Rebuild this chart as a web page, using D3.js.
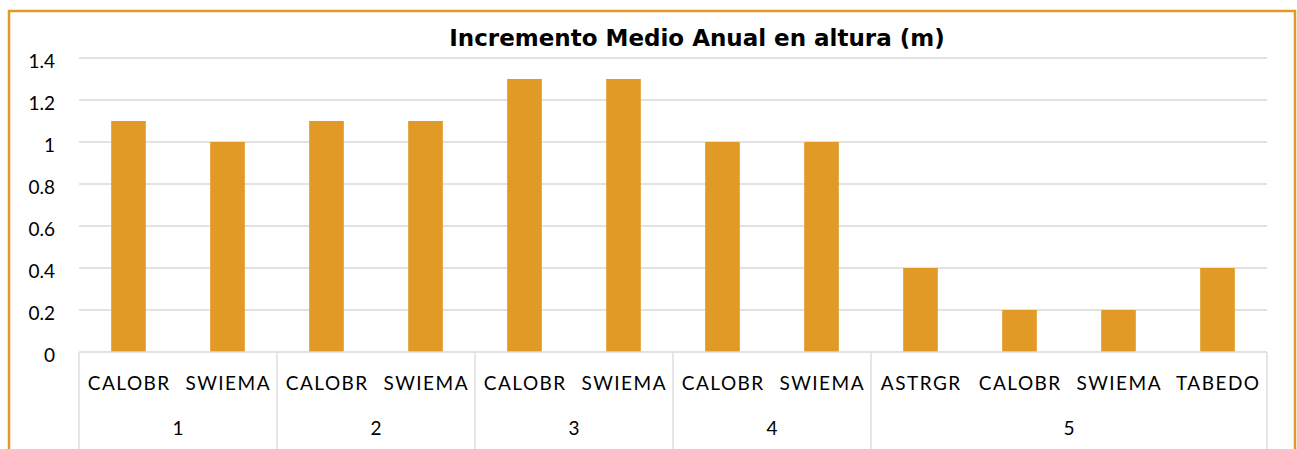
<!DOCTYPE html>
<html>
<head>
<meta charset="utf-8">
<script src="https://cdn.jsdelivr.net/npm/d3@7"></script>
<style>
  body { margin: 0; background: #fff; }
  svg { display: block; }
</style>
</head>
<body>
<div id="chart"></div>
<script>
// data
var groups = ["1", "2", "3", "4", "5"];
var species = [
    ["CALOBR", "SWIEMA"],
    ["CALOBR", "SWIEMA"],
    ["CALOBR", "SWIEMA"],
    ["CALOBR", "SWIEMA"],
    ["ASTRGR", "CALOBR", "SWIEMA", "TABEDO"]
];
var ima_values = [
    [1.1, 1.0],
    [1.1, 1.1],
    [1.3, 1.3],
    [1.0, 1.0],
    [0.4, 0.2, 0.2, 0.4]
];
var y_ticks = [0, 0.2, 0.4, 0.6, 0.8, 1, 1.2, 1.4];
var chart_title = "Incremento Medio Anual en altura (m)";

var svg_width = 1297;
var svg_height = 449;
var margins = {top: 58, right: 30, bottom: 97, left: 79};
var chartWidth = svg_width - margins.left - margins.right;
var chartHeight = svg_height - margins.top - margins.bottom;
var bar_color = "#E29A27";
var font = "'Century Gothic', 'Lato', 'Noto Sans', sans-serif";
var title_font = "'Century Gothic', 'DejaVu Sans', sans-serif";

// flatten groups into one row per bar
var rows = [];
groups.forEach(function(g, i) {
    species[i].forEach(function(s, j) {
        rows.push({key: g + "|" + s + "|" + j, group: g, sp: s, value: ima_values[i][j]});
    });
});

var svg = d3.select("#chart").append("svg")
    .attr("width", svg_width)
    .attr("height", svg_height);

// orange frame (bottom edge falls outside the picture)
svg.append("rect")
    .attr("x", 9)
    .attr("y", 11)
    .attr("width", 1286)
    .attr("height", 460)
    .attr("fill", "none")
    .attr("stroke", bar_color)
    .attr("stroke-width", 2.5);

svg.append("text")
    .attr("x", 697)
    .attr("y", 46)
    .attr("text-anchor", "middle")
    .attr("font-family", title_font)
    .attr("font-weight", "bold")
    .attr("font-size", 23)
    .attr("fill", "#000")
    .text(chart_title);

var chartGroup = svg.append("g")
    .attr("transform", `translate(${margins.left}, ${margins.top})`);

var x_band = d3.scaleBand()
    .domain(rows.map(d => d.key))
    .range([0, chartWidth])
    .paddingInner(0.65)
    .paddingOuter(0.325);

var y_linearscale = d3.scaleLinear()
    .domain([0, 1.4])
    .range([chartHeight, 0]);

// gridlines
chartGroup.append("g")
    .selectAll("line")
    .data(y_ticks.slice(1))
    .enter()
    .append("line")
    .attr("x1", 0)
    .attr("x2", chartWidth)
    .attr("y1", d => y_linearscale(d))
    .attr("y2", d => y_linearscale(d))
    .attr("stroke", "#d9d9d9")
    .attr("stroke-width", 1.3);

// y axis labels only
var left_axis = d3.axisLeft(y_linearscale)
    .tickValues(y_ticks)
    .tickFormat(d3.format("~g"))
    .tickSize(0)
    .tickPadding(24);
var yAxis = chartGroup.append("g").call(left_axis);
yAxis.select(".domain").remove();
yAxis.selectAll("text")
    .attr("font-family", font)
    .attr("font-size", 19)
    .attr("dy", "0.5em")
    .attr("fill", "#000");

// bars
chartGroup.selectAll("rect.bar")
    .data(rows)
    .enter()
    .append("rect")
    .attr("class", "bar")
    .attr("x", d => x_band(d.key))
    .attr("width", x_band.bandwidth())
    .attr("y", d => y_linearscale(d.value))
    .attr("height", d => chartHeight - y_linearscale(d.value))
    .attr("fill", bar_color);

// category axis: species row then group row
var step = x_band.step();
var bottom_Axis = chartGroup.append("g")
    .attr("transform", `translate(0, ${chartHeight})`);

bottom_Axis.append("line")
    .attr("x1", 0)
    .attr("x2", chartWidth)
    .attr("stroke", "#d9d9d9")
    .attr("stroke-width", 1.3);

bottom_Axis.selectAll("text.sp")
    .data(rows)
    .enter()
    .append("text")
    .attr("class", "sp")
    .attr("x", d => x_band(d.key) + x_band.bandwidth() / 2 + 0.75)
    .attr("y", 38)
    .attr("text-anchor", "middle")
    .attr("font-family", font)
    .attr("font-size", 19)
    .attr("letter-spacing", 1.5)
    .attr("fill", "#000")
    .text(d => d.sp);

// group spans
var spans = [];
var start = 0;
groups.forEach(function(g, i) {
    spans.push({group: g, x0: start * step, x1: (start + species[i].length) * step});
    start += species[i].length;
});

bottom_Axis.selectAll("line.sep")
    .data([0].concat(spans.map(d => d.x1)))
    .enter()
    .append("line")
    .attr("class", "sep")
    .attr("x1", d => d)
    .attr("x2", d => d)
    .attr("y1", 0)
    .attr("y2", 97)
    .attr("stroke", "#d9d9d9")
    .attr("stroke-width", 1.3);

bottom_Axis.selectAll("text.grp")
    .data(spans)
    .enter()
    .append("text")
    .attr("class", "grp")
    .attr("x", d => (d.x0 + d.x1) / 2)
    .attr("y", 83)
    .attr("text-anchor", "middle")
    .attr("font-family", font)
    .attr("font-size", 19)
    .attr("fill", "#000")
    .text(d => d.group);
</script>
</body>
</html>
